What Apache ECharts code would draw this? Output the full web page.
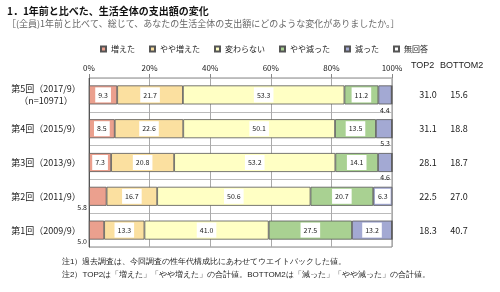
<!DOCTYPE html>
<html>
<head>
<meta charset="utf-8">
<script src="https://cdn.jsdelivr.net/npm/echarts@6/dist/echarts.min.js"></script>
<style>
  html, body { margin: 0; padding: 0; background: #fff; }
  #chart { width: 500px; height: 292px; }
</style>
</head>
<body>
<div id="chart"></div>
<script>
// rows, top to bottom
var categories = ['第5回（2017/9）\n（n=10971）', '第4回（2015/9）', '第3回（2013/9）', '第2回（2011/9）', '第1回（2009/9）'];
var seriesNames = ['増えた', 'やや増えた', '変わらない', 'やや減った', '減った', '無回答'];
var increased = [9.3, 8.5, 7.3, 5.8, 5.0];
var slightlyIncreased = [21.7, 22.6, 20.8, 16.7, 13.3];
var unchanged = [53.3, 50.1, 53.2, 50.6, 41.0];
var slightlyDecreased = [11.2, 13.5, 14.1, 20.7, 27.5];
var decreased = [4.4, 5.3, 4.6, 6.3, 13.2];
var noAnswer = [0.1, 0, 0, 0, 0];
var top2 = ['31.0', '31.1', '28.1', '22.5', '18.3'];
var bottom2 = ['15.6', '18.8', '18.7', '27.0', '40.7'];

var colors = ['#eba08e', '#fbe0a0', '#ffffc4', '#a9d192', '#a3a9d3', '#ffffff'];
var values = [increased, slightlyIncreased, unchanged, slightlyDecreased, decreased, noAnswer];

var insideLabel = {
  show: true,
  position: 'inside',
  fontSize: 7,
  color: '#222',
  backgroundColor: '#fff',
  padding: [4, 3],
  formatter: function (p) { return p.value.toFixed(1); }
};

function makeData(arr, idx) {
  return arr.map(function (v) {
    var item = { value: v };
    if (idx === 5) {
      item.label = { show: false };
    } else if (v < 6 && idx === 0) {
      item.label = { position: [0, '100%'], align: 'right', verticalAlign: 'top',
                     offset: [-2, -2], backgroundColor: 'transparent', padding: 0 };
    } else if (v < 6 && idx === 4) {
      item.label = { position: ['100%', '100%'], align: 'right', verticalAlign: 'top',
                     offset: [-2, 2], backgroundColor: 'transparent', padding: 0 };
    }
    return item;
  });
}

var series = seriesNames.map(function (name, i) {
  return {
    name: name,
    type: 'bar',
    stack: 'total',
    barWidth: 19,
    itemStyle: { color: colors[i], borderColor: '#555', borderWidth: 0.8 },
    label: insideLabel,
    data: makeData(values[i], i)
  };
});

var chart = echarts.init(document.getElementById('chart'), null, { renderer: 'canvas' });
chart.setOption({
  animation: false,
  textStyle: { fontFamily: '"Noto Sans CJK JP", sans-serif' },
  title: {
    text: '1．1年前と比べた、生活全体の支出額の変化',
    subtext: '［(全員)1年前と比べて、総じて、あなたの生活全体の支出額にどのような変化がありましたか。］',
    left: 2, top: 1, itemGap: 3,
    textStyle: { fontSize: 10, fontWeight: 'bold', color: '#111' },
    subtextStyle: { fontSize: 9, color: '#666' }
  },
  legend: {
    data: seriesNames,
    top: 40, left: 95,
    icon: 'rect', itemWidth: 5, itemHeight: 5, itemGap: 14,
    textStyle: { fontSize: 8, color: '#222' }
  },
  grid: { left: 89, right: 108, top: 78, bottom: 45, show: true, borderColor: '#888', borderWidth: 1 },
  xAxis: {
    type: 'value', position: 'top', min: 0, max: 100, interval: 20,
    axisLabel: { formatter: '{value}%', fontSize: 8, color: '#222', margin: 6 },
    axisLine: { show: false },
    axisTick: { show: true, length: 4, lineStyle: { color: '#888' } },
    splitLine: { lineStyle: { color: '#aaa' } }
  },
  yAxis: [{
    type: 'category', inverse: true, data: categories,
    axisLine: { show: true, lineStyle: { color: '#555' } },
    axisTick: { show: false },
    splitLine: { show: true, lineStyle: { color: '#bbb' } },
    axisLabel: {
      fontSize: 9, color: '#222', margin: 8, lineHeight: 12,
      formatter: function (v) {
        return v.split('\n').map(function (s) { return '{c|' + s + '}'; }).join('\n');
      },
      rich: { c: { width: 70, align: 'center', fontSize: 9, lineHeight: 12 } }
    }
  }, {
    type: 'category', inverse: true, data: top2, position: 'right',
    axisLine: { show: false }, axisTick: { show: false },
    axisLabel: {
      margin: 20, align: 'left',
      formatter: function (v, i) { return '{t|' + v + '}{b|' + bottom2[i] + '}'; },
      rich: {
        t: { width: 32, align: 'center', fontSize: 9, color: '#222' },
        b: { width: 30, align: 'center', fontSize: 9, color: '#222' }
      }
    }
  }],
  graphic: [
    { type: 'text', left: 411, top: 61, style: { text: 'TOP2', fontSize: 9, fill: '#222' } },
    { type: 'text', left: 440, top: 61, style: { text: 'BOTTOM2', fontSize: 9, fill: '#222' } },
    { type: 'text', left: 62, top: 258, style: { text: '注1）過去調査は、今回調査の性年代構成比にあわせてウエイトバックした値。', fontSize: 8, fill: '#222' } },
    { type: 'text', left: 62, top: 271, style: { text: '注2）TOP2は「増えた」「やや増えた」の合計値。BOTTOM2は「減った」「やや減った」の合計値。', fontSize: 8, fill: '#222' } }
  ],
  series: series
});
</script>
</body>
</html>
